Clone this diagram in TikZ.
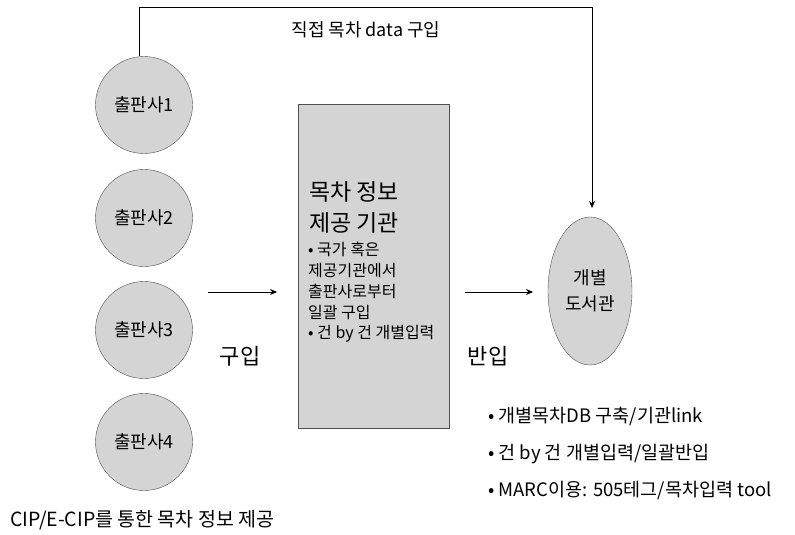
\documentclass[tikz,border=0pt]{standalone}
\usepackage{fontspec}
\setmainfont{Noto Sans CJK KR}
\usetikzlibrary{arrows.meta,shapes.geometric}
\definecolor{fillg}{HTML}{D4D4D4}
\definecolor{edgeg}{HTML}{505050}
\begin{document}
\begin{tikzpicture}[x=1pt,y=-1pt,
  pub/.style={circle,draw=edgeg,fill=fillg,minimum size=97pt,inner sep=0pt,font=\fontsize{18}{20}\selectfont},
  lbl/.style={inner sep=0pt,anchor=west},
  blbl/.style={inner sep=0pt,anchor=base west},
  boxbig/.style={blbl,font=\fontsize{23}{26}\selectfont},
  boxsmall/.style={blbl,font=\fontsize{16}{18}\selectfont},
  side/.style={blbl,font=\fontsize{18.5}{20}\selectfont},
  conn/.style={draw=black,line width=0.8pt},
  arr/.style={conn,-{Stealth[length=7pt,width=6pt]}}]
\useasboundingbox (0,0) rectangle (795,535);
\node[pub] (p1) at (144,105) {출판사1};
\node[pub] (p2) at (144,218) {출판사2};
\node[pub] (p3) at (144,330) {출판사3};
\node[pub] (p4) at (144,442) {출판사4};
\node[draw=edgeg,fill=fillg,minimum width=151pt,minimum height=324pt,inner sep=0pt] (box) at (373.5,266) {};
\node[ellipse,draw=edgeg,fill=fillg,minimum width=84pt,minimum height=148pt,inner sep=0pt,align=center,font=\fontsize{18}{26}\selectfont] (lib) at (590,291) {개별\\도서관};
\coordinate (c1) at (139,7);
\coordinate (c2) at (592,7);
\coordinate (c3) at (592,208);
\draw[conn] (p1.north -| c1) -- (c1) -- (c2);
\draw[arr] (c2) -- (c3);
\node[inner sep=0pt,font=\fontsize{18}{20}\selectfont] (t1) at (366,30) {직접 목차 data 구입};
\node[boxbig] (b1) at (309,200) {목차 정보};
\node[boxbig] (b2) at (309,231) {제공 기관};
\node[boxsmall] (b3) at (308,255) {• 국가 혹은};
\node[boxsmall] (b4) at (308,276) {제공기관에서};
\node[boxsmall] (b5) at (308,297) {출판사로부터};
\node[boxsmall] (b6) at (308,318) {일괄 구입};
\node[boxsmall] (b7) at (308,338) {• 건 by 건 개별입력};
\coordinate (a1s) at (208,292);
\coordinate (a1e) at (277,292);
\draw[arr] (a1s) -- (a1e);
\coordinate (a2s) at (465,292);
\coordinate (a2e) at (533,292);
\draw[arr] (a2s) -- (a2e);
\node[inner sep=0pt,font=\fontsize{22}{24}\selectfont] (g1) at (240,356) {구입};
\node[inner sep=0pt,font=\fontsize{22}{24}\selectfont] (g2) at (488,356) {반입};
\node[side] (r1) at (488,422) {• 개별목차DB 구축/기관link};
\node[side] (r2) at (488,459) {• 건 by 건 개별입력/일괄반입};
\node[side] (r3) at (488,496) {• MARC이용: 505테그/목차입력 tool};
\node[lbl,font=\fontsize{19.5}{21}\selectfont] (bt) at (10,520) {CIP/E-CIP를 통한 목차 정보 제공};
\end{tikzpicture}
\end{document}
